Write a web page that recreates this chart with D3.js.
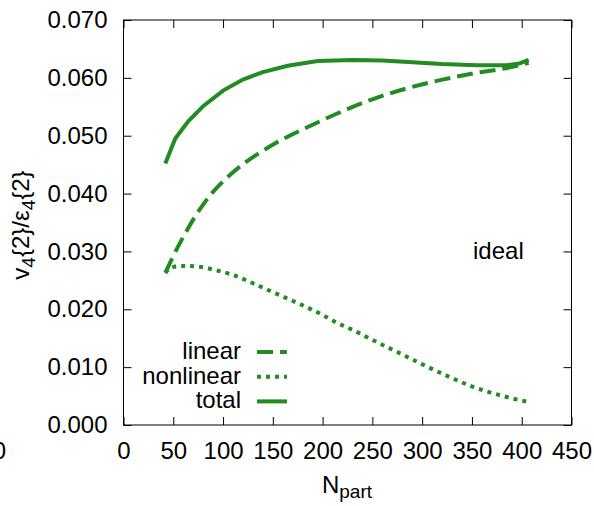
<!DOCTYPE html>
<html>
<head>
<meta charset="utf-8">
<script src="https://cdn.jsdelivr.net/npm/d3@7"></script>
<style>
  body { margin: 0; background: #fff; }
  text { font-family: "Liberation Sans", Arial, sans-serif; fill: #000; }
</style>
</head>
<body>
<div class="canvas"></div>
<script>
// data
const totalN = [42, 52, 65, 80, 100, 120, 140, 165, 195, 230, 260, 290, 320, 355, 385, 398, 407];
const totalV = [0.0452, 0.0495, 0.0525, 0.0551, 0.0578, 0.0597, 0.0610, 0.0621, 0.0629, 0.0631, 0.0630, 0.0627, 0.0624, 0.0622, 0.0622, 0.0625, 0.0631];

const linearN = [42, 50, 60, 70, 80, 90, 100, 110, 125, 140, 160, 180, 200, 225, 250, 285, 318, 352, 385, 407];
const linearV = [0.0263, 0.0292, 0.0325, 0.0355, 0.0381, 0.0403, 0.0421, 0.0437, 0.0457, 0.0474, 0.0494, 0.0511, 0.0527, 0.0546, 0.0563, 0.0582, 0.0596, 0.0608, 0.0617, 0.0626];

const nonlinearN = [42, 47, 57, 74, 94, 112, 130, 147, 164, 181, 198, 214, 233, 249, 274, 300, 325, 351, 379, 406];
const nonlinearV = [0.0263, 0.0271, 0.0275, 0.0274, 0.0267, 0.0258, 0.0245, 0.0232, 0.0219, 0.0206, 0.0192, 0.0177, 0.0162, 0.0148, 0.0127, 0.0105, 0.0085, 0.0066, 0.0051, 0.0040];

const xTicks = [0, 50, 100, 150, 200, 250, 300, 350, 400, 450];
const yTicks = [0, 0.01, 0.02, 0.03, 0.04, 0.05, 0.06, 0.07];

const seriesNames = ['linear', 'nonlinear', 'total'];
const green = '#228b22';

const svg = d3.select('.canvas')
    .append('svg')
        .attr('width', 594)
        .attr('height', 506);

// margins and dimensions
const margin = { top: 20, right: 22.5, bottom: 81, left: 123.5 };
const graphWidth = 594 - margin.left - margin.right;
const graphHeight = 506 - margin.top - margin.bottom;

const graph = svg.append('g')
    .attr('transform', `translate(${margin.left}, ${margin.top})`);

// scales
const x = d3.scaleLinear().domain([0, 450]).range([0, graphWidth]);
const y = d3.scaleLinear().domain([0, 0.07]).range([graphHeight, 0]);

// axes, ticks pointing inward on all four sides
const xAxis = d3.axisBottom(x).tickValues(xTicks).tickSizeInner(-8).tickSizeOuter(0).tickPadding(17);
const yAxis = d3.axisLeft(y).tickValues(yTicks).tickSizeInner(-8).tickSizeOuter(0).tickPadding(16)
    .tickFormat(d3.format('.3f'));
const xTop = d3.axisTop(x).tickValues(xTicks).tickSizeInner(-8).tickSizeOuter(0).tickFormat('');
const yRight = d3.axisRight(y).tickValues(yTicks).tickSizeInner(-8).tickSizeOuter(0).tickFormat('');

graph.append('g').attr('transform', `translate(0, ${graphHeight})`).call(xAxis);
graph.append('g').call(yAxis);
graph.append('g').call(xTop);
graph.append('g').attr('transform', `translate(${graphWidth}, 0)`).call(yRight);

graph.selectAll('.tick text')
    .attr('font-size', 24)
    .attr('font-family', '"Liberation Sans", Arial, sans-serif')
    .attr('fill', '#000');
graph.selectAll('.domain').remove();

// frame
graph.append('rect')
    .attr('width', graphWidth)
    .attr('height', graphHeight)
    .attr('fill', 'none')
    .attr('stroke', '#000')
    .attr('stroke-width', 1);

// curves
const series = [
    { name: 'linear', pts: d3.zip(linearN, linearV), dash: '16,7', curve: d3.curveMonotoneX },
    { name: 'nonlinear', pts: d3.zip(nonlinearN, nonlinearV), dash: '4,5', curve: d3.curveMonotoneX },
    { name: 'total', pts: d3.zip(totalN, totalV), dash: null, curve: d3.curveLinear }
];

graph.selectAll('path.curve')
    .data(series)
    .enter()
    .append('path')
    .attr('class', 'curve')
    .attr('d', d => d3.line().curve(d.curve).x(p => x(p[0])).y(p => y(p[1]))(d.pts))
    .attr('fill', 'none')
    .attr('stroke', green)
    .attr('stroke-width', 4)
    .attr('stroke-dasharray', d => d.dash);

// legend
const legend = svg.append('g');
const rows = legend.selectAll('g')
    .data(series)
    .enter()
    .append('g')
    .attr('transform', (d, i) => `translate(0, ${352 + i * 24.7})`);

rows.append('text')
    .attr('x', 241)
    .attr('y', 7)
    .attr('text-anchor', 'end')
    .attr('font-size', 24)
    .text((d, i) => seriesNames[i]);

rows.append('line')
    .attr('x1', 257)
    .attr('x2', 287)
    .attr('stroke', green)
    .attr('stroke-width', 4)
    .attr('stroke-dasharray', d => d.dash);

// labels
svg.append('text')
    .attr('x', 473)
    .attr('y', 259)
    .attr('font-size', 24)
    .text('ideal');

const xLabel = svg.append('text')
    .attr('x', 347)
    .attr('y', 493)
    .attr('text-anchor', 'middle')
    .attr('font-size', 24);
xLabel.append('tspan').text('N');
xLabel.append('tspan').attr('font-size', 19).attr('dy', 5).text('part');

const yLabel = svg.append('text')
    .attr('transform', 'translate(29, 225) rotate(-90)')
    .attr('text-anchor', 'middle')
    .attr('font-size', 24);
yLabel.append('tspan').text('v');
yLabel.append('tspan').attr('font-size', 19).attr('dy', 6).text('4');
yLabel.append('tspan').attr('dy', -6).text('{2}/ε');
yLabel.append('tspan').attr('font-size', 19).attr('dy', 6).text('4');
yLabel.append('tspan').attr('dy', -6).text('{2}');

// tick label of the neighbouring panel, cut by the edge as in the reference
svg.append('text')
    .attr('x', 6)
    .attr('y', 459)
    .attr('text-anchor', 'end')
    .attr('font-size', 24)
    .text('0');
</script>
</body>
</html>
